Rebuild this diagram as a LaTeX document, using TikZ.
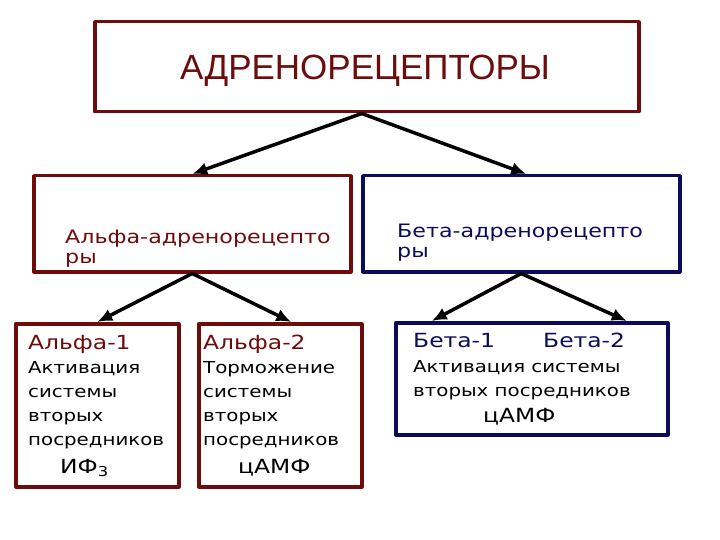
\documentclass[tikz,border=0pt]{standalone}
\usepackage{fontspec}
\setmainfont{DejaVu Sans}
\newfontfamily\slidefont[FakeStretch=1.2]{DejaVu Sans}
\newfontfamily\titlefont{Liberation Sans}
\usetikzlibrary{arrows.meta}
\definecolor{bordo}{RGB}{110,12,12}
\definecolor{sinij}{RGB}{12,12,90}
\tikzset{
  redbox/.style={draw=bordo,line width=3.5pt,inner sep=0pt,anchor=north west},
  bluebox/.style={draw=sinij,line width=3.5pt,inner sep=0pt,anchor=north west},
  arr/.style={line width=3.5pt,-{Latex[length=15pt,width=13pt]}},
  big/.style={anchor=base west,inner sep=0pt,font=\slidefont\fontsize{19.5}{23}\selectfont},
  small/.style={anchor=base west,inner sep=0pt,align=left,font=\slidefont\fontsize{16.5}{24}\selectfont},
  mid/.style={anchor=base west,inner sep=0pt,align=left,font=\slidefont\fontsize{18.5}{20}\selectfont}
}

\begin{document}
\begin{tikzpicture}[x=1pt,y=-1pt,line cap=round,line join=round]
  \useasboundingbox (0,0) rectangle (720,540);
  % boxes
  \node[redbox,minimum width=544pt,minimum height=90pt] (top) at (93,20) {};
  \node[redbox,minimum width=317pt,minimum height=96pt] (alpha) at (32,174) {};
  \node[bluebox,minimum width=317pt,minimum height=96pt] (beta) at (361,174) {};
  \node[redbox,minimum width=163pt,minimum height=163pt] (a1) at (14,322) {};
  \node[redbox,minimum width=163pt,minimum height=163pt] (a2) at (197,322) {};
  \node[bluebox,minimum width=272pt,minimum height=112pt] (b) at (394,321) {};
  % arrows
  \draw[arr] ([xshift=-5pt]top.south) -- (alpha.north);
  \draw[arr] ([xshift=-5pt]top.south) -- ([xshift=5pt]beta.north);
  \draw[arr] (alpha.south) -- (a1.north);
  \draw[arr] (alpha.south) -- ([xshift=11pt]a2.north);
  \draw[arr] (beta.south) -- ([xshift=-100pt]b.north);
  \draw[arr] (beta.south) -- ([xshift=95pt]b.north);
  % texts (base = last line)
  \node[anchor=base,inner sep=0pt,text=bordo,font=\titlefont\fontsize{35}{40}\selectfont] (ttl) at (365,80) {АДРЕНОРЕЦЕПТОРЫ};
  \node[mid,text=bordo] (talpha) at (65,263) {Альфа-адренорецепто\\ры};
  \node[mid,text=sinij] (tbeta) at (397,257) {Бета-адренорецепто\\ры};
  \node[big,text=bordo] (ta1) at (28,349) {Альфа-1};
  \node[small] (da1) at (28,445) {Активация\\системы\\вторых\\посредников};
  \node[big] (ip3) at (60,473) {ИФ\textsubscript{3}};
  \node[big,text=bordo] (ta2) at (203,349) {Альфа-2};
  \node[small] (da2) at (203,445) {Торможение\\системы\\вторых\\посредников};
  \node[big] (camp1) at (238,473) {цАМФ};
  \node[big,text=sinij] (tb1) at (413,347) {Бета-1};
  \node[big,text=sinij] (tb2) at (543,347) {Бета-2};
  \node[small] (db) at (413,396) {Активация системы\\вторых посредников};
  \node[big] (camp2) at (483,422) {цАМФ};
\end{tikzpicture}
\end{document}
